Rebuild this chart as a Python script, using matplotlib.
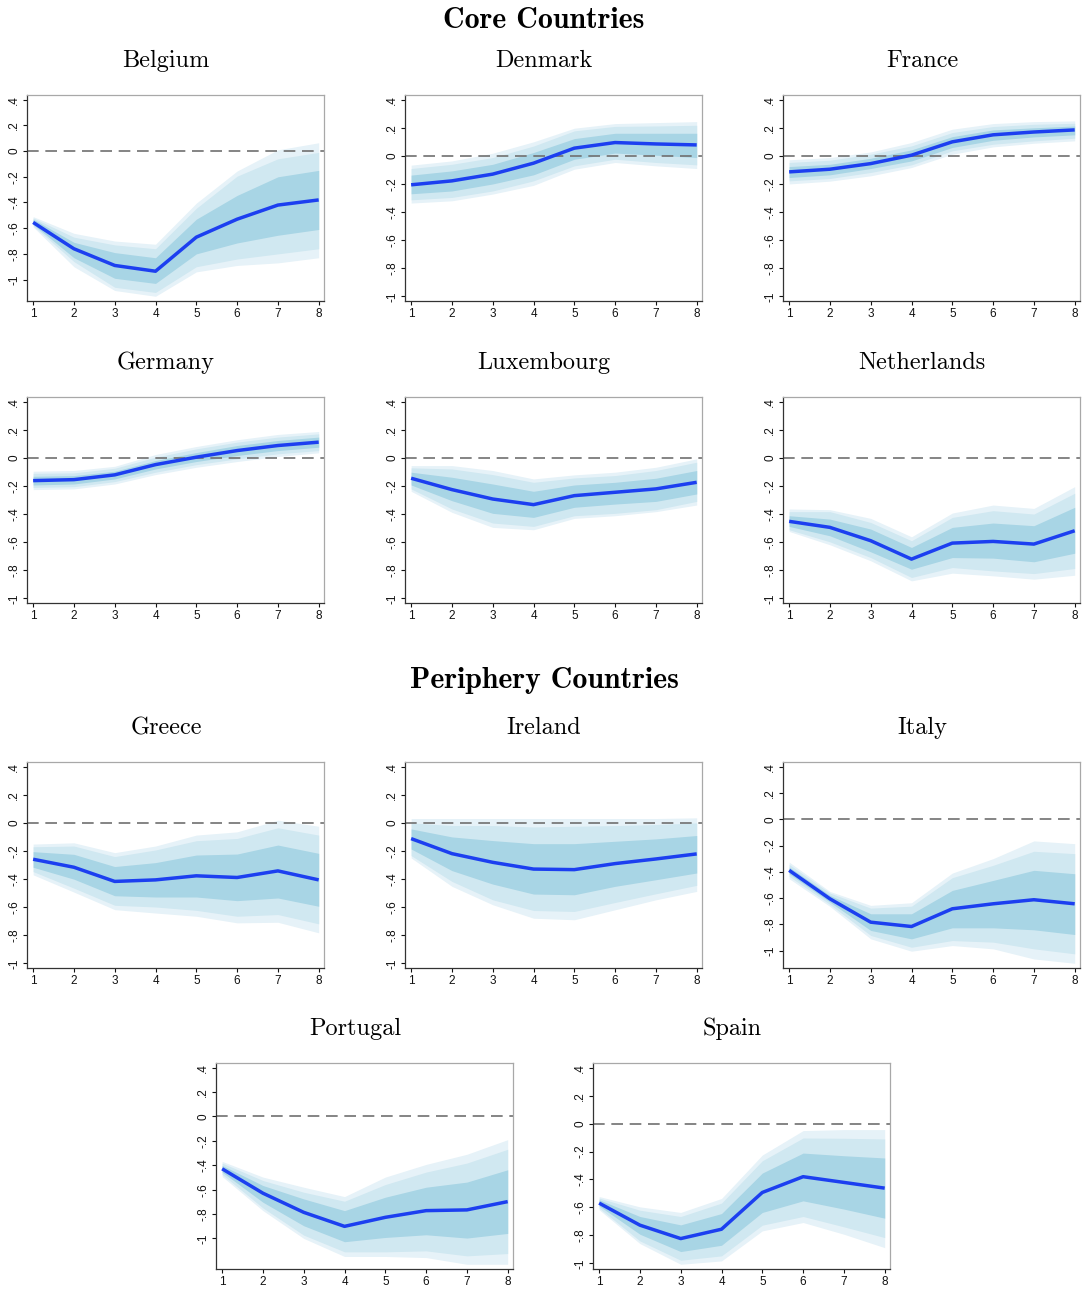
import matplotlib
matplotlib.use('Agg')
import matplotlib.pyplot as plt
import numpy as np

# horizon
steps = [1, 2, 3, 4, 5, 6, 7, 8]

# rows: mean, inner lo, inner hi, mid lo, mid hi, outer lo, outer hi
belgium = [
    [-0.555, -0.76, -0.89, -0.935, -0.67, -0.53, -0.42, -0.38],
    [-0.57, -0.83, -0.99, -1.03, -0.80, -0.715, -0.655, -0.61],
    [-0.53, -0.71, -0.79, -0.83, -0.53, -0.345, -0.20, -0.15],
    [-0.58, -0.86, -1.06, -1.10, -0.90, -0.84, -0.80, -0.76],
    [-0.52, -0.67, -0.73, -0.76, -0.445, -0.195, -0.06, -0.01],
    [-0.59, -0.90, -1.085, -1.13, -0.94, -0.89, -0.87, -0.83],
    [-0.51, -0.64, -0.70, -0.725, -0.405, -0.155, 0.01, 0.065],
]
denmark = [
    [-0.206, -0.178, -0.13, -0.052, 0.055, 0.095, 0.085, 0.078],
    [-0.27, -0.25, -0.20, -0.135, -0.024, 0.02, 0.005, -0.012],
    [-0.137, -0.107, -0.06, 0.024, 0.123, 0.161, 0.161, 0.161],
    [-0.313, -0.296, -0.25, -0.178, -0.071, -0.024, -0.047, -0.064],
    [-0.09, -0.06, -0.012, 0.07, 0.178, 0.21, 0.213, 0.218],
    [-0.336, -0.32, -0.272, -0.21, -0.095, -0.047, -0.071, -0.09],
    [-0.066, -0.036, 0.019, 0.10, 0.197, 0.23, 0.237, 0.244],
]
france = [
    [-0.114, -0.095, -0.055, 0.005, 0.10, 0.15, 0.17, 0.185],
    [-0.154, -0.135, -0.09, -0.036, 0.06, 0.111, 0.135, 0.15],
    [-0.076, -0.06, -0.017, 0.043, 0.137, 0.185, 0.20, 0.213],
    [-0.178, -0.161, -0.118, -0.064, 0.036, 0.083, 0.107, 0.126],
    [-0.047, -0.031, 0.012, 0.071, 0.166, 0.209, 0.225, 0.232],
    [-0.20, -0.18, -0.142, -0.083, 0.012, 0.064, 0.09, 0.107],
    [-0.028, -0.012, 0.028, 0.095, 0.19, 0.23, 0.244, 0.249],
]
germany = [
    [-0.162, -0.155, -0.121, -0.048, 0.005, 0.052, 0.088, 0.112],
    [-0.193, -0.186, -0.15, -0.079, -0.026, 0.017, 0.052, 0.076],
    [-0.131, -0.126, -0.095, -0.019, 0.038, 0.088, 0.124, 0.148],
    [-0.21, -0.205, -0.169, -0.102, -0.048, -0.007, 0.029, 0.052],
    [-0.11, -0.107, -0.074, 0.005, 0.064, 0.112, 0.148, 0.171],
    [-0.226, -0.221, -0.186, -0.119, -0.067, -0.026, 0.01, 0.036],
    [-0.095, -0.09, -0.06, 0.024, 0.081, 0.129, 0.167, 0.188],
]
luxembourg = [
    [-0.145, -0.226, -0.293, -0.333, -0.269, -0.245, -0.221, -0.174],
    [-0.193, -0.305, -0.395, -0.424, -0.352, -0.329, -0.31, -0.257],
    [-0.102, -0.138, -0.186, -0.238, -0.193, -0.174, -0.145, -0.09],
    [-0.221, -0.364, -0.464, -0.488, -0.412, -0.395, -0.369, -0.31],
    [-0.071, -0.079, -0.119, -0.174, -0.143, -0.126, -0.09, -0.031],
    [-0.238, -0.388, -0.495, -0.512, -0.431, -0.412, -0.383, -0.336],
    [-0.055, -0.055, -0.09, -0.15, -0.121, -0.102, -0.067, -0.007],
]
netherlands = [
    [-0.452, -0.495, -0.59, -0.721, -0.607, -0.595, -0.614, -0.519],
    [-0.488, -0.555, -0.669, -0.793, -0.71, -0.714, -0.74, -0.679],
    [-0.412, -0.436, -0.507, -0.638, -0.495, -0.464, -0.483, -0.352],
    [-0.512, -0.598, -0.71, -0.852, -0.781, -0.805, -0.824, -0.788],
    [-0.383, -0.383, -0.46, -0.59, -0.424, -0.376, -0.40, -0.252],
    [-0.524, -0.619, -0.733, -0.876, -0.821, -0.84, -0.864, -0.836],
    [-0.364, -0.369, -0.431, -0.562, -0.393, -0.336, -0.36, -0.205],
]
greece = [
    [-0.259, -0.316, -0.417, -0.406, -0.377, -0.389, -0.342, -0.406],
    [-0.316, -0.401, -0.519, -0.528, -0.528, -0.554, -0.535, -0.594],
    [-0.205, -0.224, -0.311, -0.283, -0.229, -0.222, -0.158, -0.217],
    [-0.347, -0.465, -0.587, -0.599, -0.623, -0.665, -0.653, -0.719],
    [-0.17, -0.165, -0.24, -0.193, -0.127, -0.111, -0.035, -0.087],
    [-0.37, -0.493, -0.618, -0.642, -0.665, -0.712, -0.708, -0.783],
    [-0.151, -0.142, -0.212, -0.165, -0.087, -0.064, 0.019, -0.024],
]
ireland = [
    [-0.112, -0.219, -0.281, -0.329, -0.333, -0.29, -0.257, -0.221],
    [-0.186, -0.34, -0.436, -0.507, -0.512, -0.452, -0.405, -0.357],
    [-0.043, -0.10, -0.126, -0.148, -0.148, -0.131, -0.114, -0.09],
    [-0.233, -0.417, -0.548, -0.624, -0.631, -0.567, -0.505, -0.445],
    [0.0, -0.019, -0.019, -0.029, -0.024, -0.019, -0.012, 0.0],
    [-0.25, -0.452, -0.583, -0.679, -0.69, -0.619, -0.548, -0.488],
    [0.031, 0.031, 0.031, 0.031, 0.031, 0.031, 0.031, 0.036],
]
italy = [
    [-0.389, -0.606, -0.784, -0.817, -0.682, -0.644, -0.613, -0.644],
    [-0.415, -0.631, -0.847, -0.911, -0.827, -0.827, -0.842, -0.878],
    [-0.364, -0.58, -0.72, -0.72, -0.542, -0.466, -0.389, -0.415],
    [-0.435, -0.649, -0.885, -0.975, -0.924, -0.936, -0.987, -1.025],
    [-0.344, -0.562, -0.677, -0.662, -0.445, -0.351, -0.244, -0.262],
    [-0.453, -0.664, -0.911, -1.005, -0.962, -0.987, -1.064, -1.097],
    [-0.326, -0.55, -0.656, -0.636, -0.41, -0.30, -0.165, -0.186],
]
portugal = [
    [-0.429, -0.629, -0.786, -0.901, -0.827, -0.772, -0.766, -0.698],
    [-0.456, -0.703, -0.896, -1.027, -0.992, -0.97, -0.997, -0.959],
    [-0.401, -0.566, -0.676, -0.772, -0.662, -0.58, -0.538, -0.437],
    [-0.475, -0.75, -0.973, -1.11, -1.11, -1.102, -1.143, -1.124],
    [-0.382, -0.525, -0.621, -0.695, -0.558, -0.456, -0.382, -0.269],
    [-0.492, -0.772, -1.0, -1.148, -1.148, -1.157, -1.212, -1.212],
    [-0.368, -0.497, -0.58, -0.657, -0.497, -0.393, -0.31, -0.19],
]
spain = [
    [-0.569, -0.727, -0.823, -0.756, -0.493, -0.38, -0.421, -0.462],
    [-0.589, -0.792, -0.916, -0.871, -0.636, -0.553, -0.612, -0.677],
    [-0.545, -0.665, -0.725, -0.644, -0.354, -0.211, -0.23, -0.246],
    [-0.605, -0.84, -0.978, -0.947, -0.727, -0.665, -0.739, -0.816],
    [-0.533, -0.62, -0.665, -0.569, -0.266, -0.103, -0.105, -0.11],
    [-0.617, -0.859, -1.007, -0.983, -0.768, -0.708, -0.792, -0.888],
    [-0.522, -0.596, -0.636, -0.536, -0.225, -0.05, -0.043, -0.043],
]

ytick_vals = [-1, -0.8, -0.6, -0.4, -0.2, 0, 0.2, 0.4]
ytick_labels = ['-1', '-.8', '-.6', '-.4', '-.2', '0', '.2', '.4']

c_outer = '#e6f2f8'
c_mid = '#d0e8f1'
c_inner = '#a8d5e5'
c_line = '#1c3ff0'

W, H = 1083, 1291
fig = plt.figure(figsize=(W / 100, H / 100), dpi=100)

def px_axes(left, top, w, h):
    return fig.add_axes([left / W, 1 - (top + h) / H, w / W, h / H])

def panel(left, top, name, d):
    ax = px_axes(left, top, 297, 206)
    d = np.array(d)
    ax.fill_between(steps, d[5], d[6], color=c_outer, lw=0)
    ax.fill_between(steps, d[3], d[4], color=c_mid, lw=0)
    ax.fill_between(steps, d[1], d[2], color=c_inner, lw=0)
    ax.axhline(0, color='#707070', lw=1.2, dashes=(7, 4))
    ax.plot(steps, d[0], color=c_line, lw=2.5, solid_capstyle='butt')
    lo = min(d.min(), -1)
    hi = 0.4
    pad = 0.024 * (hi - lo)
    ax.set_ylim(lo - pad, hi + pad)
    ax.set_xlim(0.85, 8.13)
    ax.set_xticks(steps)
    ax.set_xticklabels([str(s) for s in steps], fontsize=8.5, family='Liberation Sans')
    ax.set_yticks(ytick_vals)
    ax.set_yticklabels(ytick_labels, fontsize=8.5, family='Liberation Sans',
                       rotation=90, va='center')
    ax.tick_params(length=3, width=0.8, pad=2, colors='#111111')
    for s in ['top', 'right']:
        ax.spines[s].set_color('#a8a8a8')
        ax.spines[s].set_linewidth(0.9)
    for s in ['left', 'bottom']:
        ax.spines[s].set_color('#333333')
        ax.spines[s].set_linewidth(0.9)
    fig.text((left + 139) / W, 1 - (top - 34) / H, name, ha='center', va='center',
             family='cmr10', fontsize=17.5)
    return ax

cols = [27, 405, 783]
panel(cols[0], 95, 'Belgium', belgium)
panel(cols[1], 95, 'Denmark', denmark)
panel(cols[2], 95, 'France', france)
panel(cols[0], 397, 'Germany', germany)
panel(cols[1], 397, 'Luxembourg', luxembourg)
panel(cols[2], 397, 'Netherlands', netherlands)
panel(cols[0], 762, 'Greece', greece)
panel(cols[1], 762, 'Ireland', ireland)
panel(cols[2], 762, 'Italy', italy)
panel(216, 1063, 'Portugal', portugal)
panel(593, 1063, 'Spain', spain)

fig.text(544 / W, 1 - 20 / H, 'Core Countries', ha='center', va='center',
         family='cmb10', fontsize=21.5)
fig.text(544 / W, 1 - 681 / H, 'Periphery Countries', ha='center', va='center',
         family='cmb10', fontsize=21.5)

fig.savefig('out.png', dpi=100)
